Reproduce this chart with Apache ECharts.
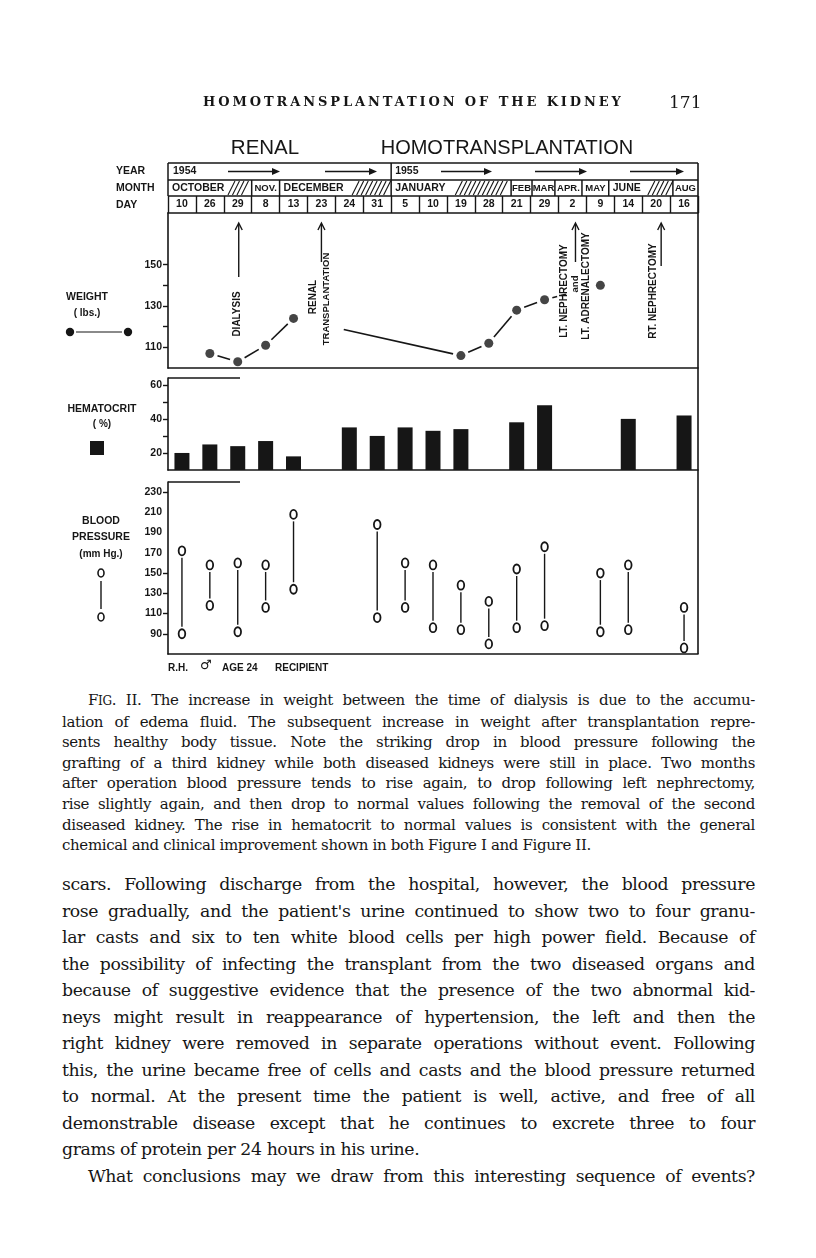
<!DOCTYPE html>
<html>
<head>
<meta charset="utf-8">
<script src="https://cdn.jsdelivr.net/npm/echarts@6/dist/echarts.min.js"></script>
<style>
  body { margin: 0; background: #fff; width: 816px; height: 1258px; position: relative; overflow: hidden; color: #161616; }
  #main { position: absolute; left: 0; top: 0; width: 816px; height: 690px; }
  .runhead { position: absolute; left: 203px; top: 94px; font: bold 13px "DejaVu Serif"; letter-spacing: 2.9px; }
  .pageno { position: absolute; left: 669px; top: 92px; font: 17px "DejaVu Serif"; }
  .block { position: absolute; left: 62px; width: 693px; font-family: "DejaVu Serif"; }
  .block div { white-space: normal; text-align: justify; text-align-last: justify; }
  .block div.last { text-align-last: left; }
  .caption { top: 690px; font-size: 15px; line-height: 20.6px; letter-spacing: -0.35px; }
  .caption .first, .text .first { text-indent: 26px; }
  .text { top: 871px; font-size: 17.3px; line-height: 26.5px; letter-spacing: -0.4px; }
  .sc { font-size: 12px; }
</style>
</head>
<body>
<div id="main"></div>
<div class="runhead">HOMOTRANSPLANTATION OF THE KIDNEY</div>
<div class="pageno">171</div>
<div class="block caption">
  <div class="first">F<span class="sc">IG</span>. II. The increase in weight between the time of dialysis is due to the accumu-</div>
  <div>lation of edema fluid. The subsequent increase in weight after transplantation repre-</div>
  <div>sents healthy body tissue. Note the striking drop in blood pressure following the</div>
  <div>grafting of a third kidney while both diseased kidneys were still in place. Two months</div>
  <div>after operation blood pressure tends to rise again, to drop following left nephrectomy,</div>
  <div>rise slightly again, and then drop to normal values following the removal of the second</div>
  <div>diseased kidney. The rise in hematocrit to normal values is consistent with the general</div>
  <div class="last">chemical and clinical improvement shown in both Figure I and Figure II.</div>
</div>
<div class="block text">
  <div>scars. Following discharge from the hospital, however, the blood pressure</div>
  <div>rose gradually, and the patient's urine continued to show two to four granu-</div>
  <div>lar casts and six to ten white blood cells per high power field. Because of</div>
  <div>the possibility of infecting the transplant from the two diseased organs and</div>
  <div>because of suggestive evidence that the presence of the two abnormal kid-</div>
  <div>neys might result in reappearance of hypertension, the left and then the</div>
  <div>right kidney were removed in separate operations without event. Following</div>
  <div>this, the urine became free of cells and casts and the blood pressure returned</div>
  <div>to normal. At the present time the patient is well, active, and free of all</div>
  <div>demonstrable disease except that he continues to excrete three to four</div>
  <div class="last">grams of protein per 24 hours in his urine.</div>
  <div class="first">What conclusions may we draw from this interesting sequence of events?</div>
</div>

<script>
// ---- data ----
var dates = ['Oct 10', 'Oct 26', 'Oct 29', 'Nov 8', 'Dec 13', 'Dec 23', 'Dec 24', 'Dec 31',
  'Jan 5', 'Jan 10', 'Jan 19', 'Jan 28', 'Feb 21', 'Mar 29', 'Apr 2', 'May 9', 'Jun 14', 'Jun 20', 'Aug 16'];
var dayLabels = ['10', '26', '29', '8', '13', '23', '24', '31', '5', '10', '19', '28', '21', '29', '2', '9', '14', '20', '16'];
var monthLabels = ['OCTOBER', 'NOV.', 'DECEMBER', 'JANUARY', 'FEB', 'MAR', 'APR.', 'MAY', 'JUNE', 'AUG'];
var yearLabels = ['1954', '1955'];

var weightDates = ['Oct 26', 'Oct 29', 'Nov 8', 'Dec 13', 'Jan 19', 'Jan 28', 'Feb 21', 'Mar 29', 'May 9'];
var weightLbs = [107, 103, 111, 124, 106, 112, 128, 133, 140];

var hctDates = ['Oct 10', 'Oct 26', 'Oct 29', 'Nov 8', 'Dec 13', 'Dec 24', 'Dec 31', 'Jan 5', 'Jan 10',
  'Jan 19', 'Feb 21', 'Mar 29', 'Jun 14', 'Aug 16'];
var hctPct = [20, 25, 24, 27, 18, 35, 30, 35, 33, 34, 38, 48, 40, 42];

var bpDates = ['Oct 10', 'Oct 26', 'Oct 29', 'Nov 8', 'Dec 13', 'Dec 31', 'Jan 5', 'Jan 10', 'Jan 19',
  'Jan 28', 'Feb 21', 'Mar 29', 'May 9', 'Jun 14', 'Aug 16'];
var bpHigh = [172, 158, 160, 158, 208, 198, 160, 158, 138, 122, 154, 176, 150, 158, 116];
var bpLow = [90, 118, 92, 116, 134, 106, 116, 96, 94, 80, 96, 98, 92, 94, 76];

var weightTicks = [110, 130, 150];
var hctTicks = [20, 40, 60];
var bpTicks = [90, 110, 130, 150, 170, 190, 210, 230];

// ---- layout ----
var INK = '#161616';
var GL = 168, GW = 530;
var FONT = 'Liberation Sans';

function idx(d) { return dates.indexOf(d); }
function colX(u) { return GL + u * GW / dates.length; }

var chart = echarts.init(document.getElementById('main'));

function baseX(grid) {
  return {
    gridIndex: grid, type: 'category', data: dates,
    axisLine: { lineStyle: { color: INK, width: 1.6 } },
    axisTick: { show: false }, axisLabel: { show: false }
  };
}
function valY(grid, min, max, labels, ticks) {
  return {
    gridIndex: grid, type: 'value', min: min, max: max,
    splitLine: { show: false },
    axisLine: { show: true, lineStyle: { color: INK, width: 1.6 } },
    axisTick: { show: true, length: 5, customValues: ticks, lineStyle: { color: INK, width: 1.4 } },
    axisLabel: { customValues: labels, margin: 6, color: INK, fontFamily: FONT, fontWeight: 'bold', fontSize: 10.5 }
  };
}

var option = {
  animation: false,
  grid: [
    { left: GL, top: 213, width: GW, height: 155 },
    { left: GL, top: 378, width: GW, height: 92 },
    { left: GL, top: 482, width: GW, height: 172 }
  ],
  xAxis: [
    baseX(0), baseX(1), baseX(2),
    {
      gridIndex: 0, type: 'category', position: 'top', data: dates,
      axisLine: { lineStyle: { color: INK, width: 1.6 } },
      axisTick: { show: true, length: 17, lineStyle: { color: INK, width: 1.4 } },
      axisLabel: {
        interval: 0, margin: 3, color: INK, fontFamily: FONT, fontWeight: 'bold', fontSize: 10.5,
        formatter: function (v, i) { return dayLabels[i]; }
      }
    }
  ],
  yAxis: [
    valY(0, 100, 175, weightTicks, [110, 120, 130, 140, 150]),
    valY(1, 10, 64, hctTicks, [20, 30, 40, 50, 60]),
    valY(2, 70, 240, bpTicks, [90, 110, 130, 150, 230])
  ],
  series: [
    {
      // weight connectors, stopped short of the dots; two of them run under the lettering
      type: 'custom', xAxisIndex: 0, yAxisIndex: 0,
      encode: { x: [0, 2], y: [1, 3] },
      data: weightDates.slice(1).map(function (d, i) {
        return [idx(weightDates[i]), weightLbs[i], idx(d), weightLbs[i + 1]];
      }),
      renderItem: function (params, api) {
        var a = api.coord([api.value(0), api.value(1)]);
        var b = api.coord([api.value(2), api.value(3)]);
        var dx = b[0] - a[0], dy = b[1] - a[1], len = Math.sqrt(dx * dx + dy * dy);
        var s = params.dataIndex === 3 ? 0.3 * len : 8;
        var e = params.dataIndex === 7 ? 0.4 * len : len - 8;
        return {
          type: 'line',
          shape: { x1: a[0] + dx * s / len, y1: a[1] + dy * s / len, x2: a[0] + dx * e / len, y2: a[1] + dy * e / len },
          style: { stroke: INK, lineWidth: 1.6, lineDash: params.dataIndex === 7 ? [5, 4] : null }
        };
      }
    },
    {
      type: 'scatter', xAxisIndex: 0, yAxisIndex: 0, symbolSize: 9,
      itemStyle: { color: INK },
      data: weightDates.map(function (d, i) { return [idx(d), weightLbs[i]]; })
    },
    {
      type: 'bar', xAxisIndex: 1, yAxisIndex: 1, barWidth: 15,
      itemStyle: { color: INK },
      data: hctDates.map(function (d, i) { return [idx(d), hctPct[i]]; })
    },
    {
      type: 'custom', xAxisIndex: 2, yAxisIndex: 2,
      encode: { x: 0, y: [1, 2] },
      data: bpDates.map(function (d, i) { return [idx(d), bpHigh[i], bpLow[i]]; }),
      renderItem: function (params, api) {
        var hi = api.coord([api.value(0), api.value(1)]);
        var lo = api.coord([api.value(0), api.value(2)]);
        var ring = { stroke: INK, lineWidth: 1.8, fill: '#fff' };
        return {
          type: 'group',
          children: [
            { type: 'line', shape: { x1: hi[0], y1: hi[1] + 7, x2: lo[0], y2: lo[1] - 7 }, style: { stroke: INK, lineWidth: 1.4 } },
            { type: 'ellipse', shape: { cx: hi[0], cy: hi[1], rx: 3.3, ry: 4.5 }, style: ring },
            { type: 'ellipse', shape: { cx: lo[0], cy: lo[1], rx: 3.3, ry: 4.5 }, style: ring }
          ]
        };
      }
    }
  ]
};
chart.setOption(option);

// ---- header table, labels and annotations ----
var g = [];
function line(x1, y1, x2, y2, w) {
  g.push({ type: 'line', shape: { x1: x1, y1: y1, x2: x2, y2: y2 }, style: { stroke: INK, lineWidth: w || 1.5 } });
}
function text(t, x, y, size, opt) {
  opt = opt || {};
  g.push({
    type: 'text', x: x, y: y, rotation: opt.rot || 0,
    style: {
      text: t, fill: INK, align: opt.align || 'center', verticalAlign: 'middle',
      font: (opt.weight || 'bold') + ' ' + size + 'px "' + (opt.family || FONT) + '"'
    }
  });
}
function upArrow(x, y1, y2) {
  line(x, y1 + 1, x, y2, 1.4);
  g.push({ type: 'polyline', shape: { points: [[x - 3.5, y1 + 7], [x, y1], [x + 3.5, y1 + 7]] }, style: { stroke: INK, lineWidth: 1.4, fill: null } });
}
function rightArrow(x1, x2, y) {
  line(x1, y, x2 - 5, y, 1.4);
  g.push({ type: 'polygon', shape: { points: [[x2 - 8, y - 3.5], [x2, y], [x2 - 8, y + 3.5]] }, style: { fill: INK } });
}
function hatch(x0, x1, yTop, yBot) {
  for (var x = x0; x + 7 <= x1; x += 4.5) line(x, yBot - 1, x + 7, yTop + 1, 1.1);
}

var R = GL + GW;
var yT = 163, yM = 180, yD = 196;
line(GL, yT, R, yT); line(GL, yM, R, yM); line(GL, yD, R, yD);
line(GL, yT, GL, yD); line(R, yT, R, 654, 1.6);

// year row
line(colX(8), yT, colX(8), yM);
text(yearLabels[0], GL + 5, 171.5, 10.5, { align: 'left' });
text(yearLabels[1], colX(8) + 4, 171.5, 10.5, { align: 'left' });
rightArrow(228, 280, 171.5); rightArrow(325, 377, 171.5);
rightArrow(441, 492, 171.5); rightArrow(535, 587, 171.5); rightArrow(630, 684, 171.5);

// month row: cells [from, to] in column units, start of the hatched part
var monthCells = [[0, 3, 2.15], [3, 4], [4, 8, 6.6], [8, 12.3, 10.3], [12.3, 13.05], [13.05, 13.87],
  [13.87, 14.84], [14.84, 15.8], [15.8, 18.1, 17.2], [18.1, 19]];
monthCells.forEach(function (c, i) {
  if (i > 0) line(colX(c[0]), yM, colX(c[0]), yD);
  var wide = c[1] - c[0] > 1.5;
  if (wide) text(monthLabels[i], colX(c[0]) + 4, 188, 10.5, { align: 'left' });
  else text(monthLabels[i], (colX(c[0]) + colX(c[1])) / 2, 188, 9.5, {});
  if (c[2] !== undefined) hatch(colX(c[2]), colX(c[1]), yM, yD);
});

// row titles
text('YEAR', 116, 171.5, 10.5, { align: 'left' });
text('MONTH', 116, 188, 10.5, { align: 'left' });
text('DAY', 116, 205, 10.5, { align: 'left' });

// panel titles on the left
text('WEIGHT', 87, 297, 10.5, {});
text('( lbs.)', 87, 313, 10, {});
g.push({ type: 'circle', shape: { cx: 70, cy: 332, r: 4.2 }, style: { fill: INK } });
g.push({ type: 'circle', shape: { cx: 128, cy: 332, r: 4.2 }, style: { fill: INK } });
line(76, 332, 122, 332, 1.2);

text('HEMATOCRIT', 102, 409, 10.5, {});
text('( %)', 102, 424, 10, {});
g.push({ type: 'rect', shape: { x: 90, y: 441, width: 14, height: 14 }, style: { fill: INK } });

text('BLOOD', 101, 521, 10.5, {});
text('PRESSURE', 101, 537, 10.5, {});
text('(mm Hg.)', 101, 554, 10, {});
g.push({ type: 'ellipse', shape: { cx: 101, cy: 573, rx: 3, ry: 4 }, style: { stroke: INK, lineWidth: 1.6, fill: '#fff' } });
g.push({ type: 'ellipse', shape: { cx: 101, cy: 617, rx: 3, ry: 4 }, style: { stroke: INK, lineWidth: 1.6, fill: '#fff' } });
line(101, 581, 101, 609, 1.4);

// short top strokes of the lower panels
line(GL, 378, 240, 378, 1.5);
line(GL, 482, 240, 482, 1.5);

// event annotations in the weight panel
function cx(d) { return chart.convertToPixel({ xAxisIndex: 0 }, idx(d)); }
var ROT = Math.PI / 2;
var xd = cx('Oct 29');
upArrow(xd + 1, 223, 277);
text('DIALYSIS', xd, 314, 10, { rot: ROT });

var xr = cx('Dec 23');
upArrow(xr, 223, 262);
text('RENAL', xr - 8, 297, 10, { rot: ROT });
text('TRANSPLANTATION', xr + 5, 299, 9.5, { rot: ROT });

var xl = cx('Apr 2');
upArrow(xl + 3, 223, 262);
text('LT. NEPHRECTOMY', xl - 8, 291, 10, { rot: ROT });
text('and', xl + 3, 284, 9.5, { rot: ROT });
text('LT. ADRENALECTOMY', xl + 14, 286, 10, { rot: ROT });

var xn = cx('Jun 20');
upArrow(xn + 5, 223, 266);
text('RT. NEPHRECTOMY', xn - 3, 291, 10, { rot: ROT });

// chart title and footer
text('RENAL', 265, 148, 20.5, { weight: 'normal' });
text('HOMOTRANSPLANTATION', 507, 148, 20, { weight: 'normal' });
text('R.H.', GL, 668, 10, { align: 'left' });
text('\u2642', 200, 666, 13, { align: 'left', family: 'DejaVu Sans' });
text('AGE 24', 222, 668, 10, { align: 'left' });
text('RECIPIENT', 275, 668, 10, { align: 'left' });

chart.setOption({ graphic: { elements: g } });
</script>
</body>
</html>
